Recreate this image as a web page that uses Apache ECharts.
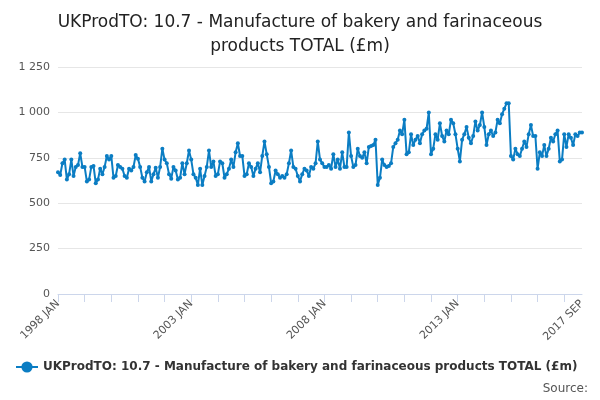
<html>
<head>
<script src="https://cdn.jsdelivr.net/npm/echarts@6/dist/echarts.min.js"></script>
</head>
<body style="margin:0">
<div id="main" style="width:600px;height:400px;"></div>
<script type="text/javascript">
var months = ['JAN','FEB','MAR','APR','MAY','JUN','JUL','AUG','SEP','OCT','NOV','DEC'];
// monthly values, 1998 JAN .. 2017 SEP
var y1998 = [670,655,720,740,630,660,740,650,700,710,775,700];
var y1999 = [700,620,630,700,705,610,630,690,660,700,760,740];
var y2000 = [760,640,650,710,700,690,650,640,690,680,700,765];
var y2001 = [745,700,640,620,670,700,620,660,695,640,700,800];
var y2002 = [740,720,660,635,700,680,630,640,720,660,720,790];
var y2003 = [740,660,640,600,690,600,650,700,790,700,730,650];
var y2004 = [660,730,720,640,660,690,740,700,780,830,760,760];
var y2005 = [650,660,720,700,650,690,720,670,760,840,770,700];
var y2006 = [610,620,680,660,640,650,640,660,720,790,700,690];
var y2007 = [650,620,660,690,680,650,700,690,720,840,740,720];
var y2008 = [700,700,710,690,770,700,740,690,780,700,700,890];
var y2009 = [760,700,710,800,760,750,780,720,810,815,820,850];
var y2010 = [600,640,740,710,700,705,720,810,830,850,900,880];
var y2011 = [960,770,780,880,820,850,870,830,880,900,910,1000];
var y2012 = [770,800,880,850,940,870,840,900,880,960,940,880];
var y2013 = [800,730,850,880,920,860,830,870,950,900,930,1000];
var y2014 = [920,820,880,900,870,890,960,940,990,1020,1050,1050];
var y2015 = [760,740,800,770,760,800,840,810,880,930,870,870];
var y2016 = [690,780,760,820,760,800,860,840,880,900,730,740];
var y2017 = [880,810,880,860,820,880,870,890,890];

var years = [y1998,y2999=null].length ? [y1998,y1999,y2000,y2001,y2002,y2003,y2004,y2005,y2006,y2007,y2008,y2009,y2010,y2011,y2012,y2013,y2014,y2015,y2016,y2017] : [];
var categories = [];
var values = [];
for (var i = 0; i < years.length; i++) {
    for (var j = 0; j < years[i].length; j++) {
        categories.push((1998 + i) + ' ' + months[j]);
        values.push(years[i][j]);
    }
}
var shownLabels = ['1998 JAN','2003 JAN','2008 JAN','2013 JAN','2017 SEP'];

var myChart = echarts.init(document.getElementById('main'));
myChart.setOption({
    animation: false,
    title: {
        text: 'UKProdTO: 10.7 - Manufacture of bakery and farinaceous\nproducts TOTAL (£m)',
        left: 'center', top: 6,
        textStyle: {fontFamily: 'DejaVu Sans', fontSize: 17, fontWeight: 'normal', color: '#222', lineHeight: 24}
    },
    legend: {
        bottom: 22, left: 10, itemWidth: 22,
        data: ['UKProdTO: 10.7 - Manufacture of bakery and farinaceous products TOTAL (£m)'],
        textStyle: {fontFamily: 'DejaVu Sans', fontSize: 12, fontWeight: 'bold', color: '#333'}
    },
    graphic: [{type: 'text', right: 12, bottom: 5, style: {text: 'Source:', fontFamily: 'DejaVu Sans', fontSize: 12, fill: '#555'}}],
    grid: {left: 58, right: 18, top: 67, bottom: 106},
    xAxis: {
        type: 'category', data: categories, boundaryGap: false,
        axisLine: {lineStyle: {color: '#ccd6eb'}},
        axisTick: {interval: 11, length: 8, lineStyle: {color: '#ccd6eb'}},
        axisLabel: {
            rotate: 45, color: '#555', fontFamily: 'DejaVu Sans', fontSize: 11,
            interval: function (i, v) { return shownLabels.indexOf(v) >= 0; }
        }
    },
    yAxis: {
        type: 'value', min: 0, max: 1250, interval: 250,
        axisLabel: {color: '#555', fontFamily: 'DejaVu Sans', fontSize: 11,
            formatter: function (v) { return v >= 1000 ? String(v).replace(/(\d)(\d{3})$/, '$1 $2') : v; }},
        splitLine: {lineStyle: {color: '#e6e6e6'}}
    },
    series: [{
        name: 'UKProdTO: 10.7 - Manufacture of bakery and farinaceous products TOTAL (£m)',
        type: 'line', data: values,
        symbol: 'circle', symbolSize: 4, showAllSymbol: true,
        itemStyle: {color: '#0b7dc3'}, lineStyle: {width: 2, color: '#0b7dc3'}
    }]
});
</script>
</body>
</html>
